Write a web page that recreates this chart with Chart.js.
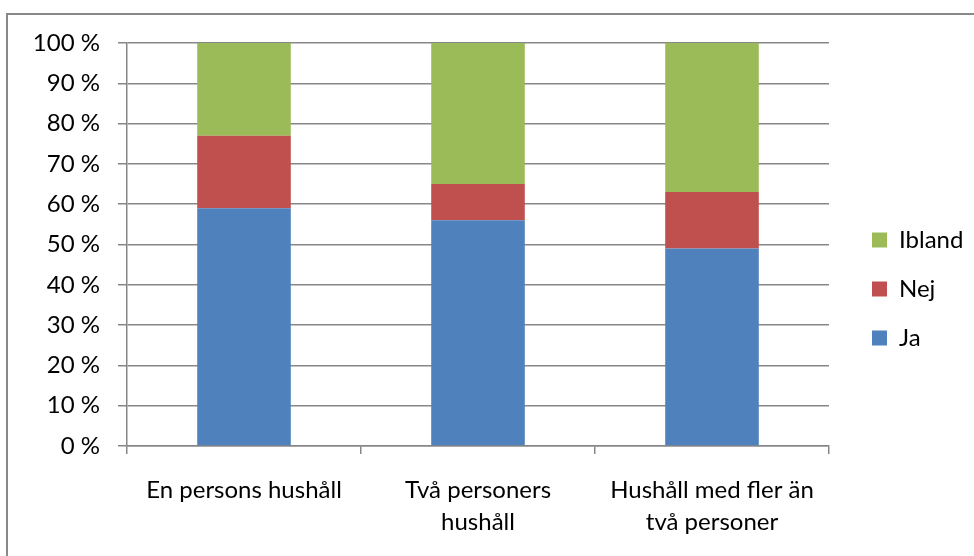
<!DOCTYPE html>
<html><head><meta charset="utf-8">
<script src="https://cdn.jsdelivr.net/npm/chart.js@4"></script>
<style>html,body{margin:0;padding:0;background:#fff;}canvas{display:block;}</style>
</head><body>
<canvas id="c" width="974" height="556"></canvas>
<script>
const categories = [['En persons hushåll'], ['Två personers', 'hushåll'], ['Hushåll med fler än', 'två personer']];
const seriesNames = ['Ja', 'Nej', 'Ibland'];
const jaValues = [59, 56, 49];
const nejValues = [18, 9, 14];
const iblandValues = [23, 35, 37];
const seriesColors = ['#4F81BD', '#C0504D', '#9BBB59'];
const yTickSuffix = ' %';

const FONT = { family: 'Lato', size: 24 };
const GRID = '#878787';

const frame = {
  id: 'frame',
  beforeDraw(chart) {
    const ctx = chart.ctx;
    ctx.save();
    ctx.fillStyle = '#ffffff';
    ctx.fillRect(0, 0, chart.width, chart.height);
    ctx.fillStyle = '#898989';
    ctx.fillRect(6, 13, chart.width - 6, 2);
    ctx.fillRect(6, 13, 2, chart.height - 13);
    ctx.restore();
    const lg = chart.legend;
    if (lg) { lg.left = 872 - 25; lg.top = 203; }
  }
};
const legendFix = {
  id: 'legendFix',
  afterInit(chart) {
    const lg = chart.legend;
    const f = lg.fit;
    lg.fit = function () { f.call(this); this.width = 145; };
  }
};

new Chart(document.getElementById('c'), {
  type: 'bar',
  data: {
    labels: categories,
    datasets: [
      { label: seriesNames[0], data: jaValues, backgroundColor: seriesColors[0], borderWidth: 0 },
      { label: seriesNames[1], data: nejValues, backgroundColor: seriesColors[1], borderWidth: 0 },
      { label: seriesNames[2], data: iblandValues, backgroundColor: seriesColors[2], borderWidth: 0 }
    ]
  },
  plugins: [frame, legendFix],
  options: {
    responsive: false,
    animation: false,
    layout: { padding: { top: 43, left: 0, right: 0, bottom: 0 } },
    datasets: { bar: { categoryPercentage: 1, barPercentage: 0.4 } },
    plugins: {
      tooltip: { enabled: false },
      legend: {
        position: 'right',
        align: 'start',
        reverse: true,
        labels: { boxWidth: 15, boxHeight: 15, padding: 25, color: '#000', font: FONT }
      }
    },
    scales: {
      x: {
        stacked: true,
        afterFit(s) { s.height = 110; },
        grid: { offset: true, drawOnChartArea: false, drawTicks: true, tickLength: 8, color: GRID, lineWidth: 1.5 },
        border: { display: true, color: GRID, width: 1.5 },
        ticks: { color: '#000', font: { family: 'Lato', size: 24, lineHeight: 1.333 }, padding: 20, maxRotation: 0, autoSkip: false }
      },
      y: {
        stacked: true,
        min: 0, max: 100,
        afterFit(s) { s.width = 127; },
        grid: { color: GRID, lineWidth: 1.5, drawTicks: true, tickLength: 9 },
        border: { display: true, color: GRID, width: 1.5 },
        ticks: { stepSize: 10, color: '#000', font: FONT, padding: 18, callback: v => v + yTickSuffix }
      }
    }
  }
});
</script>
</body></html>
